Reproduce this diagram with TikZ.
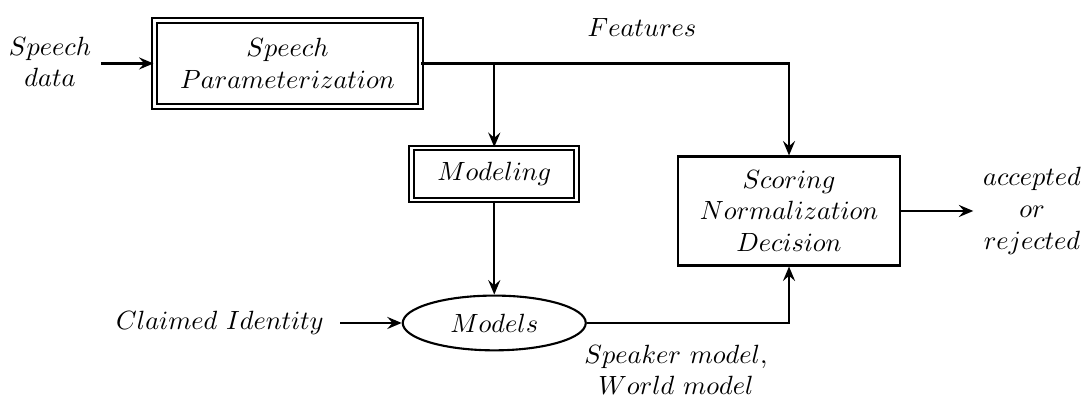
\documentclass[tikz,border=0pt]{standalone}
\usetikzlibrary{arrows.meta,shapes.geometric}
\tikzstyle{block}=[rectangle, draw, line width=0.8pt, align=center, inner sep=0pt]
\tikzstyle{dblock}=[block, double, double distance=1.1pt, line width=0.75pt]
\tikzstyle{oval}=[ellipse, draw, line width=0.8pt, inner sep=0pt]
\tikzstyle{txt}=[align=center]
\newcommand{\block}{\node[block]}

\begin{document}
\begin{tikzpicture}[x=1cm, y=1cm, line width=0.8pt,
	>={Stealth[length=5.5pt, width=4.6pt, inset=2pt]}
	]
	\useasboundingbox (0,0) rectangle (14.453,5.293);
	\node[dblock, minimum width=3.547cm, minimum height=1.147cm] (param) at (3.833, 4.447) {$Speech$\\$Parameterization$};
	\node[dblock, minimum width=2.2cm, minimum height=0.693cm] (modeling) at (6.59, 2.973) {$Modeling$};
	\block[minimum width=2.95cm, minimum height=1.453cm] (score) at (10.52, 2.48) {$Scoring$\\$Normalization$\\$Decision$};
	\node[oval, minimum width=2.44cm, minimum height=0.73cm] (models) at (6.59, 0.987) {$Models$};
	\node[txt] (data) at (0.667, 4.467) {$Speech$\\$data$};
	\node[txt, outer sep=3pt] (claim) at (2.933, 0.987) {$Claimed\ Identity$};
	\node[txt] (result) at (13.76, 2.48) {$accepted$\\$or$\\$rejected$};
	\node[txt] (feat) at (8.56, 4.92) {$Features$};
	\node[txt] (spk) at (9.013, 0.36) {$Speaker\ model,$\\$World\ model$};
	\draw[->] (param.west -| data.east) -- (param.west);
	\draw[->] (param.east) -| (score);
	\draw[->] (param.east -| modeling) -- (modeling);
	\draw[->] (modeling) -- (models);
	\draw[->] (claim) -- (models);
	\draw[->] (models) -| (score);
	\draw[->] (score) -- (result);
	\end{tikzpicture}
\end{document}
